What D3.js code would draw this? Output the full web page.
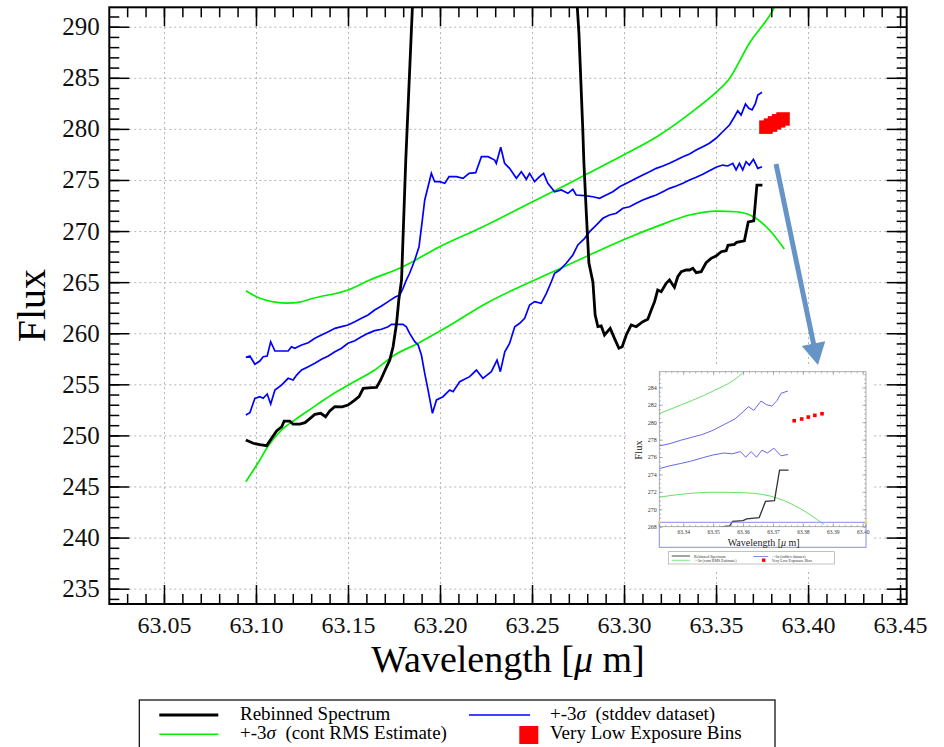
<!DOCTYPE html>
<html><head><meta charset="utf-8">
<script src="https://cdn.jsdelivr.net/npm/d3@7"></script>
<style>
body{margin:0;background:#fff}
svg{display:block}
svg text{font-family:"Liberation Serif","Times New Roman",serif}
</style></head><body>
<svg id="chart" width="944" height="747"></svg>
<script>
// ---- axis ticks ----
const xTicks = [63.05, 63.10, 63.15, 63.20, 63.25, 63.30, 63.35, 63.40, 63.45];
const xTickLabels = ["63.05","63.10","63.15","63.20","63.25","63.30","63.35","63.40","63.45"];
const yTicks = [235, 240, 245, 250, 255, 260, 265, 270, 275, 280, 285, 290];
const insetXTicks = [63.34, 63.35, 63.36, 63.37, 63.38, 63.39, 63.40];
const insetYTicks = [268, 270, 272, 274, 276, 278, 280, 282, 284];

// ---- Rebinned Spectrum ----
const specWave = [63.0945,63.0985,63.1021,63.1058,63.1085,63.1112,63.1140,63.1153,63.1184,63.1202,63.1238,63.1266,63.1283,63.1320,63.1352,63.1378,63.1401,63.1428,63.1468,63.1500,63.1533,63.1560,63.1583,63.1628,63.1655,63.1677,63.1700,63.1727,63.1745,63.1764,63.1776,63.1791,63.1814,63.1850,63.1890,63.2300,63.2710,63.2746,63.2755,63.2776,63.2782,63.2795,63.2809,63.2831,63.2843,63.2858,63.2876,63.2894,63.2925,63.2948,63.2972,63.2990,63.3012,63.3039,63.3066,63.3102,63.3129,63.3148,63.3166,63.3183,63.3202,63.3229,63.3247,63.3274,63.3292,63.3311,63.3338,63.3356,63.3374,63.3392,63.3419,63.3446,63.3473,63.3500,63.3528,63.3555,63.3565,63.3600,63.3612,63.3654,63.3675,63.3705,63.3722,63.3752];
const specFlux = [249.56,249.23,249.09,249.00,249.72,250.43,250.85,251.40,251.40,251.10,251.10,251.25,251.50,252.06,252.16,251.83,252.40,252.81,252.80,252.97,253.40,253.80,254.60,254.67,254.70,255.40,256.33,257.38,258.68,260.97,263.25,265.20,276.95,291.90,312.0,345.0,312.0,291.90,289.35,279.89,276.66,271.77,266.90,265.00,261.80,260.64,260.71,259.83,260.48,259.50,258.53,258.68,259.83,260.81,260.64,261.13,261.36,262.27,263.09,264.23,264.07,264.89,265.21,264.50,265.53,266.02,266.19,266.19,266.36,265.93,266.02,266.90,267.33,267.56,267.98,268.08,268.60,268.70,268.90,269.05,270.90,271.00,274.50,274.50];

// ---- +-3 sigma (stddev dataset), upper and lower ----
const stdHiWave = [63.0945,63.0967,63.0994,63.1021,63.1039,63.1061,63.1080,63.1103,63.1130,63.1175,63.1193,63.1211,63.1248,63.1284,63.1320,63.1356,63.1393,63.1429,63.1465,63.1500,63.1537,63.1573,63.1609,63.1645,63.1682,63.1718,63.1754,63.1781,63.1799,63.1817,63.1835,63.1863,63.1886,63.1904,63.1917,63.1935,63.1953,63.1971,63.1998,63.2026,63.2049,63.2089,63.2125,63.2158,63.2194,63.2225,63.2261,63.2297,63.2306,63.2330,63.2351,63.2378,63.2415,63.2442,63.2469,63.2487,63.2514,63.2541,63.2563,63.2586,63.2623,63.2659,63.2695,63.2722,63.2740,63.2786,63.2831,63.2867,63.2903,63.2939,63.2976,63.3030,63.3066,63.3102,63.3139,63.3175,63.3211,63.3247,63.3284,63.3320,63.3356,63.3392,63.3428,63.3464,63.3500,63.3536,63.3573,63.3600,63.3618,63.3636,63.3660,63.3678,63.3696,63.3714,63.3727,63.3750];
const stdHiFlux = [257.64,257.77,256.96,257.28,257.70,257.77,259.17,258.26,258.26,258.26,258.68,258.53,258.85,259.07,259.50,259.83,260.15,260.48,260.64,260.81,261.13,261.46,261.78,262.27,262.66,263.09,263.52,263.74,264.40,265.21,265.87,267.17,268.47,271.08,273.04,274.34,275.65,274.83,274.83,274.67,275.32,275.32,275.16,275.65,275.71,277.28,277.28,276.95,276.63,278.20,276.63,276.14,275.16,275.81,275.07,275.65,274.83,275.32,275.65,274.67,273.85,274.02,273.69,274.09,273.53,273.46,273.36,273.21,273.53,273.85,274.34,274.83,275.16,275.49,275.81,276.14,276.37,276.63,276.95,277.28,277.54,277.93,278.26,278.59,279.08,279.72,280.38,281.19,281.78,281.36,282.43,282.01,281.85,282.50,283.32,283.58];
const stdLoWave = [63.0945,63.0967,63.0994,63.1021,63.1039,63.1061,63.1080,63.1103,63.1140,63.1175,63.1202,63.1221,63.1248,63.1284,63.1320,63.1356,63.1393,63.1429,63.1465,63.1500,63.1537,63.1573,63.1609,63.1645,63.1682,63.1718,63.1736,63.1799,63.1817,63.1835,63.1863,63.1881,63.1899,63.1917,63.1935,63.1959,63.1981,63.2016,63.2053,63.2071,63.2107,63.2161,63.2198,63.2233,63.2279,63.2310,63.2328,63.2352,63.2378,63.2406,63.2433,63.2460,63.2487,63.2514,63.2550,63.2578,63.2605,63.2623,63.2650,63.2686,63.2722,63.2749,63.2786,63.2813,63.2849,63.2885,63.2921,63.2958,63.2994,63.3030,63.3066,63.3102,63.3139,63.3175,63.3211,63.3247,63.3284,63.3320,63.3356,63.3392,63.3428,63.3464,63.3500,63.3536,63.3564,63.3591,63.3609,63.3627,63.3645,63.3663,63.3681,63.3703,63.3727,63.3750];
const stdLoFlux = [252.00,252.22,253.63,253.79,253.63,254.05,253.08,254.45,254.94,255.59,255.42,255.91,256.40,256.73,257.06,257.45,257.77,258.19,258.53,259.02,259.27,259.66,259.99,260.25,260.39,260.64,260.87,260.87,260.64,259.99,259.17,258.85,257.87,256.08,254.45,252.16,253.47,253.79,254.45,254.28,255.26,255.75,256.40,255.59,256.24,257.38,256.24,258.19,259.00,260.64,260.97,261.46,262.76,263.09,262.93,263.91,265.04,265.87,266.19,266.85,267.66,268.64,269.29,269.94,270.59,271.25,271.57,271.74,272.23,272.38,272.72,273.04,273.30,273.53,273.85,274.18,274.41,274.67,275.00,275.26,275.55,275.91,276.24,276.46,276.37,276.63,275.98,276.63,275.98,276.79,276.46,277.02,276.14,276.30];

// ---- +-3 sigma (continuum RMS estimate), upper and lower ----
const rmsHiWave = [63.0945,63.1021,63.1103,63.1170,63.1238,63.1310,63.1500,63.1618,63.1799,63.1998,63.2216,63.2433,63.2631,63.2800,63.2997,63.3178,63.3359,63.3504,63.3567,63.3681,63.3817,63.3870];
const rmsHiFlux = [264.16,263.42,263.05,262.95,263.05,263.42,264.23,265.21,266.51,268.47,270.27,272.23,274.02,275.60,277.44,279.23,281.52,283.64,284.78,288.38,291.90,294.00];
const rmsLoWave = [63.0945,63.1004,63.1021,63.1058,63.1139,63.1211,63.1302,63.1410,63.1519,63.1645,63.1754,63.1881,63.2026,63.2252,63.2614,63.2813,63.2994,63.3175,63.3356,63.3500,63.3609,63.3717,63.3790,63.3871];
const rmsLoFlux = [245.47,247.10,247.59,248.74,250.53,251.51,252.65,253.96,255.10,256.40,257.87,259.02,260.48,262.93,266.02,267.66,269.13,270.43,271.57,271.96,271.89,271.25,270.10,268.24];

// ---- very low exposure bins ----
const lowExpWave = [63.3771, 63.3796, 63.3818, 63.3840, 63.3864];
const lowExpFlux = [280.17, 280.37, 280.59, 280.79, 280.97];

// ---- callout arrow (wavelength, flux) ----
const arrowFrom = [63.3826, 276.56];
const arrowTo = [63.4054, 256.88];

const SERIF = '"Liberation Serif","Times New Roman",serif';
const zip = (a, b) => a.map((v, i) => [v, b[i]]);
// the RMS envelopes are smooth model curves; the others are binned data
const series = [
  {pts: zip(rmsHiWave, rmsHiFlux), color: "#00f000", w: 1.7, ic: "#55dd55", smooth: true},
  {pts: zip(rmsLoWave, rmsLoFlux), color: "#00f000", w: 1.7, ic: "#55dd55", smooth: true},
  {pts: zip(stdHiWave, stdHiFlux), color: "#0000ff", w: 1.7, ic: "#5555ee"},
  {pts: zip(stdLoWave, stdLoFlux), color: "#0000ff", w: 1.7, ic: "#5555ee"},
  {pts: zip(specWave, specFlux), color: "#000000", w: 2.8, ic: "#333333"}
];

const svg = d3.select("#chart");
const M = {left: 109.3, right: 906.7, top: 7.3, bottom: 604};
const x = d3.scaleLinear().domain([63.0203, 63.4536]).range([M.left, M.right]);
const y = d3.scaleLinear().domain([233.5, 291.9]).range([M.bottom, M.top]);
const xMinor = d3.range(3, 46).map(i => 63 + i / 100);
const yMinor = d3.range(234, 292);

// grid
function grid(gen, tr, vals, size) {
  const g = svg.append("g").attr("transform", tr)
    .call(gen.tickValues(vals).tickSize(size).tickFormat(() => ""));
  g.select(".domain").remove();
  g.selectAll("line").attr("stroke", "#b4b4b4").attr("stroke-width", 1).attr("stroke-dasharray", "2,3");
}
grid(d3.axisBottom(x), `translate(0,${M.bottom})`, xTicks, -(M.bottom - M.top));
grid(d3.axisLeft(y), `translate(${M.left},0)`, yTicks, -(M.right - M.left));

// data lines
svg.append("clipPath").attr("id", "plotClip").append("rect")
  .attr("x", M.left).attr("y", M.top).attr("width", M.right - M.left).attr("height", M.bottom - M.top);
const mkLine = (sx, sy, smooth) => d3.line().x(d => sx(d[0])).y(d => sy(d[1]))
  .curve(smooth ? d3.curveMonotoneX : d3.curveLinear);
const plot = svg.append("g").attr("clip-path", "url(#plotClip)");
series.forEach(s => plot.append("path").attr("d", mkLine(x, y, s.smooth)(s.pts)).attr("fill", "none")
  .attr("stroke", s.color).attr("stroke-width", s.w).attr("stroke-linejoin", "miter"));
const sq = 13.5;
plot.selectAll("rect.le").data(zip(lowExpWave, lowExpFlux)).join("rect").attr("class", "le")
  .attr("x", d => x(d[0]) - sq / 2).attr("y", d => y(d[1]) - sq / 2)
  .attr("width", sq).attr("height", sq).attr("fill", "#ff0000");

// axes with inward ticks
function ticks(gen, tr, vals, size, fmt, pad, fs) {
  const g = svg.append("g").attr("transform", tr)
    .call(gen.tickValues(vals).tickSizeInner(size).tickSizeOuter(0).tickPadding(pad || 3).tickFormat(fmt || (() => "")));
  g.select(".domain").remove();
  g.attr("font-family", null);
  g.selectAll("line").attr("stroke", "#000").attr("stroke-width", 1.5);
  g.selectAll("text").style("font-family", SERIF).style("font-size", (fs || 10) + "px").attr("fill", "#111");
  return g;
}
ticks(d3.axisBottom(x), `translate(0,${M.bottom})`, xMinor, -10);
ticks(d3.axisTop(x), `translate(0,${M.top})`, xMinor, -10);
ticks(d3.axisLeft(y), `translate(${M.left},0)`, yMinor, -10);
ticks(d3.axisRight(y), `translate(${M.right},0)`, yMinor, -10);
ticks(d3.axisBottom(x), `translate(0,${M.bottom})`, xTicks, -19, (d, i) => xTickLabels[i], 12, 24);
ticks(d3.axisTop(x), `translate(0,${M.top})`, xTicks, -19);
ticks(d3.axisLeft(y), `translate(${M.left},0)`, yTicks, -20, d => d, 9.5, 25);
ticks(d3.axisRight(y), `translate(${M.right},0)`, yTicks, -20);
svg.append("rect").attr("x", M.left).attr("y", M.top).attr("width", M.right - M.left).attr("height", M.bottom - M.top)
  .attr("fill", "none").attr("stroke", "#000").attr("stroke-width", 2);

// axis titles
const xt = svg.append("text").attr("x", (M.left + M.right) / 2).attr("y", 672).attr("text-anchor", "middle")
  .style("font-family", SERIF).style("font-size", "38px");
xt.append("tspan").text("Wavelength [");
xt.append("tspan").attr("font-style", "italic").text("\u03bc");
xt.append("tspan").text(" m]");
svg.append("text").attr("transform", `translate(45,${(M.top + M.bottom) / 2}) rotate(-90)`)
  .attr("text-anchor", "middle").style("font-family", SERIF).style("font-size", "40px").text("Flux");

// legend
function sigmaText(sel, rest) {
  sel.append("tspan").text("+-3");
  sel.append("tspan").attr("font-style", "italic").text("\u03c3");
  sel.append("tspan").text(rest);
}
const lg = svg.append("g");
lg.append("rect").attr("x", 139.3).attr("y", 700).attr("width", 635.7).attr("height", 60)
  .attr("fill", "#fff").attr("stroke", "#000").attr("stroke-width", 1.2);
lg.append("line").attr("x1", 159.3).attr("x2", 218.3).attr("y1", 715).attr("y2", 715).attr("stroke", "#000").attr("stroke-width", 3);
lg.append("line").attr("x1", 159.3).attr("x2", 218.3).attr("y1", 734.3).attr("y2", 734.3).attr("stroke", "#00f000").attr("stroke-width", 1.5);
lg.append("line").attr("x1", 469).attr("x2", 530).attr("y1", 715).attr("y2", 715).attr("stroke", "#0000ff").attr("stroke-width", 1.5);
lg.append("rect").attr("x", 519.3).attr("y", 726).attr("width", 19).attr("height", 18).attr("fill", "#ff0000");
const lt = (sel) => sel.style("font-family", SERIF).style("font-size", "19px").style("white-space", "pre");
lt(lg.append("text").attr("x", 240).attr("y", 720)).text("Rebinned Spectrum");
sigmaText(lt(lg.append("text").attr("x", 240).attr("y", 739)), "  (cont RMS Estimate)");
sigmaText(lt(lg.append("text").attr("x", 550).attr("y", 720)), "  (stddev dataset)");
lt(lg.append("text").attr("x", 550).attr("y", 739)).text("Very Low Exposure Bins");

// ---- zoomed inset of the red-wing region ----
const I = {left: 659.3, right: 866, top: 371.7, bottom: 526.7};
const xi = d3.scaleLinear().domain([63.332, 63.4011]).range([I.left, I.right]);
const yi = d3.scaleLinear().domain([268, 285.8]).range([I.bottom, I.top]);
const ins = svg.append("g");
ins.append("rect").attr("x", 626).attr("y", 366).attr("width", 248).attr("height", 206).attr("fill", "#fff");
ins.append("clipPath").attr("id", "insetClip").append("rect")
  .attr("x", I.left).attr("y", I.top).attr("width", I.right - I.left).attr("height", I.bottom - I.top);
const ip = ins.append("g").attr("clip-path", "url(#insetClip)");
series.forEach(s => ip.append("path").attr("d", mkLine(xi, yi, s.smooth)(s.pts)).attr("fill", "none")
  .attr("stroke", s.ic).attr("stroke-width", s.w > 2 ? 1.3 : 0.9));
ip.selectAll("rect.le").data(zip(lowExpWave, lowExpFlux)).join("rect").attr("class", "le")
  .attr("x", d => xi(d[0]) - 1.8).attr("y", d => yi(d[1]) - 1.8).attr("width", 3.6).attr("height", 3.6).attr("fill", "#ff0000");
function iticks(gen, tr, vals, size, fmt, pad, fs) {
  const g = ins.append("g").attr("transform", tr)
    .call(gen.tickValues(vals).tickSizeInner(size).tickSizeOuter(0).tickPadding(pad || 2).tickFormat(fmt || (() => "")));
  g.select(".domain").remove();
  g.attr("font-family", null);
  g.selectAll("line").attr("stroke", "#888").attr("stroke-width", 0.6);
  g.selectAll("text").style("font-family", SERIF).style("font-size", (fs || 5) + "px").attr("fill", "#333");
}
const xiMinor = d3.range(0, 35).map(i => 63.332 + i * 0.002);
const yiMinor = d3.range(536, 572).map(i => i / 2);
iticks(d3.axisTop(xi), `translate(0,${I.top})`, xiMinor, -1.8);
iticks(d3.axisBottom(xi), `translate(0,${I.bottom})`, xiMinor, -1.8);
iticks(d3.axisLeft(yi), `translate(${I.left},0)`, yiMinor, -1.8);
iticks(d3.axisRight(yi), `translate(${I.right},0)`, yiMinor, -1.8);
iticks(d3.axisTop(xi), `translate(0,${I.top})`, insetXTicks, -3.5);
iticks(d3.axisBottom(xi), `translate(0,${I.bottom})`, insetXTicks, -3.5, d => d.toFixed(2), 3, 5.5);
iticks(d3.axisLeft(yi), `translate(${I.left},0)`, insetYTicks, -3.5, d => d, 2.6, 6);
iticks(d3.axisRight(yi), `translate(${I.right},0)`, insetYTicks, -3.5);
ins.append("rect").attr("x", I.left).attr("y", I.top).attr("width", I.right - I.left).attr("height", I.bottom - I.top)
  .attr("fill", "none").attr("stroke", "#999").attr("stroke-width", 0.8);
ins.append("rect").attr("x", I.left).attr("y", 522.3).attr("width", I.right - I.left).attr("height", 25)
  .attr("fill", "none").attr("stroke", "#8a8aee").attr("stroke-width", 1);
[I.left, I.right].forEach(px => ins.append("rect").attr("x", px - 1.2).attr("y", 521.1).attr("width", 2.4).attr("height", 2.4).attr("fill", "#e8e040"));
const ixt = ins.append("text").attr("x", 763.7).attr("y", 545.5).attr("text-anchor", "middle")
  .style("font-family", SERIF).style("font-size", "10px").attr("fill", "#222");
ixt.append("tspan").text("Wavelength [");
ixt.append("tspan").attr("font-style", "italic").text("\u03bc");
ixt.append("tspan").text(" m]");
ins.append("text").attr("transform", "translate(641.8,450) rotate(-90)").attr("text-anchor", "middle")
  .style("font-family", SERIF).style("font-size", "10.5px").attr("fill", "#222").text("Flux");
// inset legend
ins.append("rect").attr("x", 668.3).attr("y", 551.7).attr("width", 166).attr("height", 12.3)
  .attr("fill", "#fff").attr("stroke", "#999").attr("stroke-width", 0.6);
ins.append("line").attr("x1", 671.7).attr("x2", 690).attr("y1", 556).attr("y2", 556).attr("stroke", "#333").attr("stroke-width", 0.9);
ins.append("line").attr("x1", 671.7).attr("x2", 690).attr("y1", 560.3).attr("y2", 560.3).attr("stroke", "#55dd55").attr("stroke-width", 0.7);
ins.append("line").attr("x1", 753.3).attr("x2", 768.3).attr("y1", 556.5).attr("y2", 556.5).attr("stroke", "#5555ee").attr("stroke-width", 0.7);
ins.append("rect").attr("x", 762).attr("y", 558.5).attr("width", 3.4).attr("height", 3.4).attr("fill", "#ff0000");
const it = (sel) => sel.style("font-family", SERIF).style("font-size", "4px").style("white-space", "pre").attr("fill", "#333");
it(ins.append("text").attr("x", 694).attr("y", 557.5)).text("Rebinned Spectrum");
sigmaText(it(ins.append("text").attr("x", 694).attr("y", 561.8)), " (cont RMS Estimate)");
sigmaText(it(ins.append("text").attr("x", 771.7).attr("y", 557.8)), " (stddev dataset)");
it(ins.append("text").attr("x", 771.7).attr("y", 561.8)).text("Very Low Exposure Bins");

// callout arrow
const p0 = [x(arrowFrom[0]), y(arrowFrom[1])], p1 = [x(arrowTo[0]), y(arrowTo[1])];
const len = Math.hypot(p1[0] - p0[0], p1[1] - p0[1]);
const ux = (p1[0] - p0[0]) / len, uy = (p1[1] - p0[1]) / len;
const headL = 22, headW = 12;
const bx = p1[0] - ux * headL, by = p1[1] - uy * headL;
svg.append("line").attr("x1", p0[0]).attr("y1", p0[1]).attr("x2", bx + ux * 2).attr("y2", by + uy * 2)
  .attr("stroke", "#6794c7").attr("stroke-width", 5);
svg.append("path").attr("d", `M${p1[0]},${p1[1]}L${bx - uy * headW},${by + ux * headW}L${bx + uy * headW},${by - ux * headW}Z`)
  .attr("fill", "#6794c7");
</script>
</body></html>
